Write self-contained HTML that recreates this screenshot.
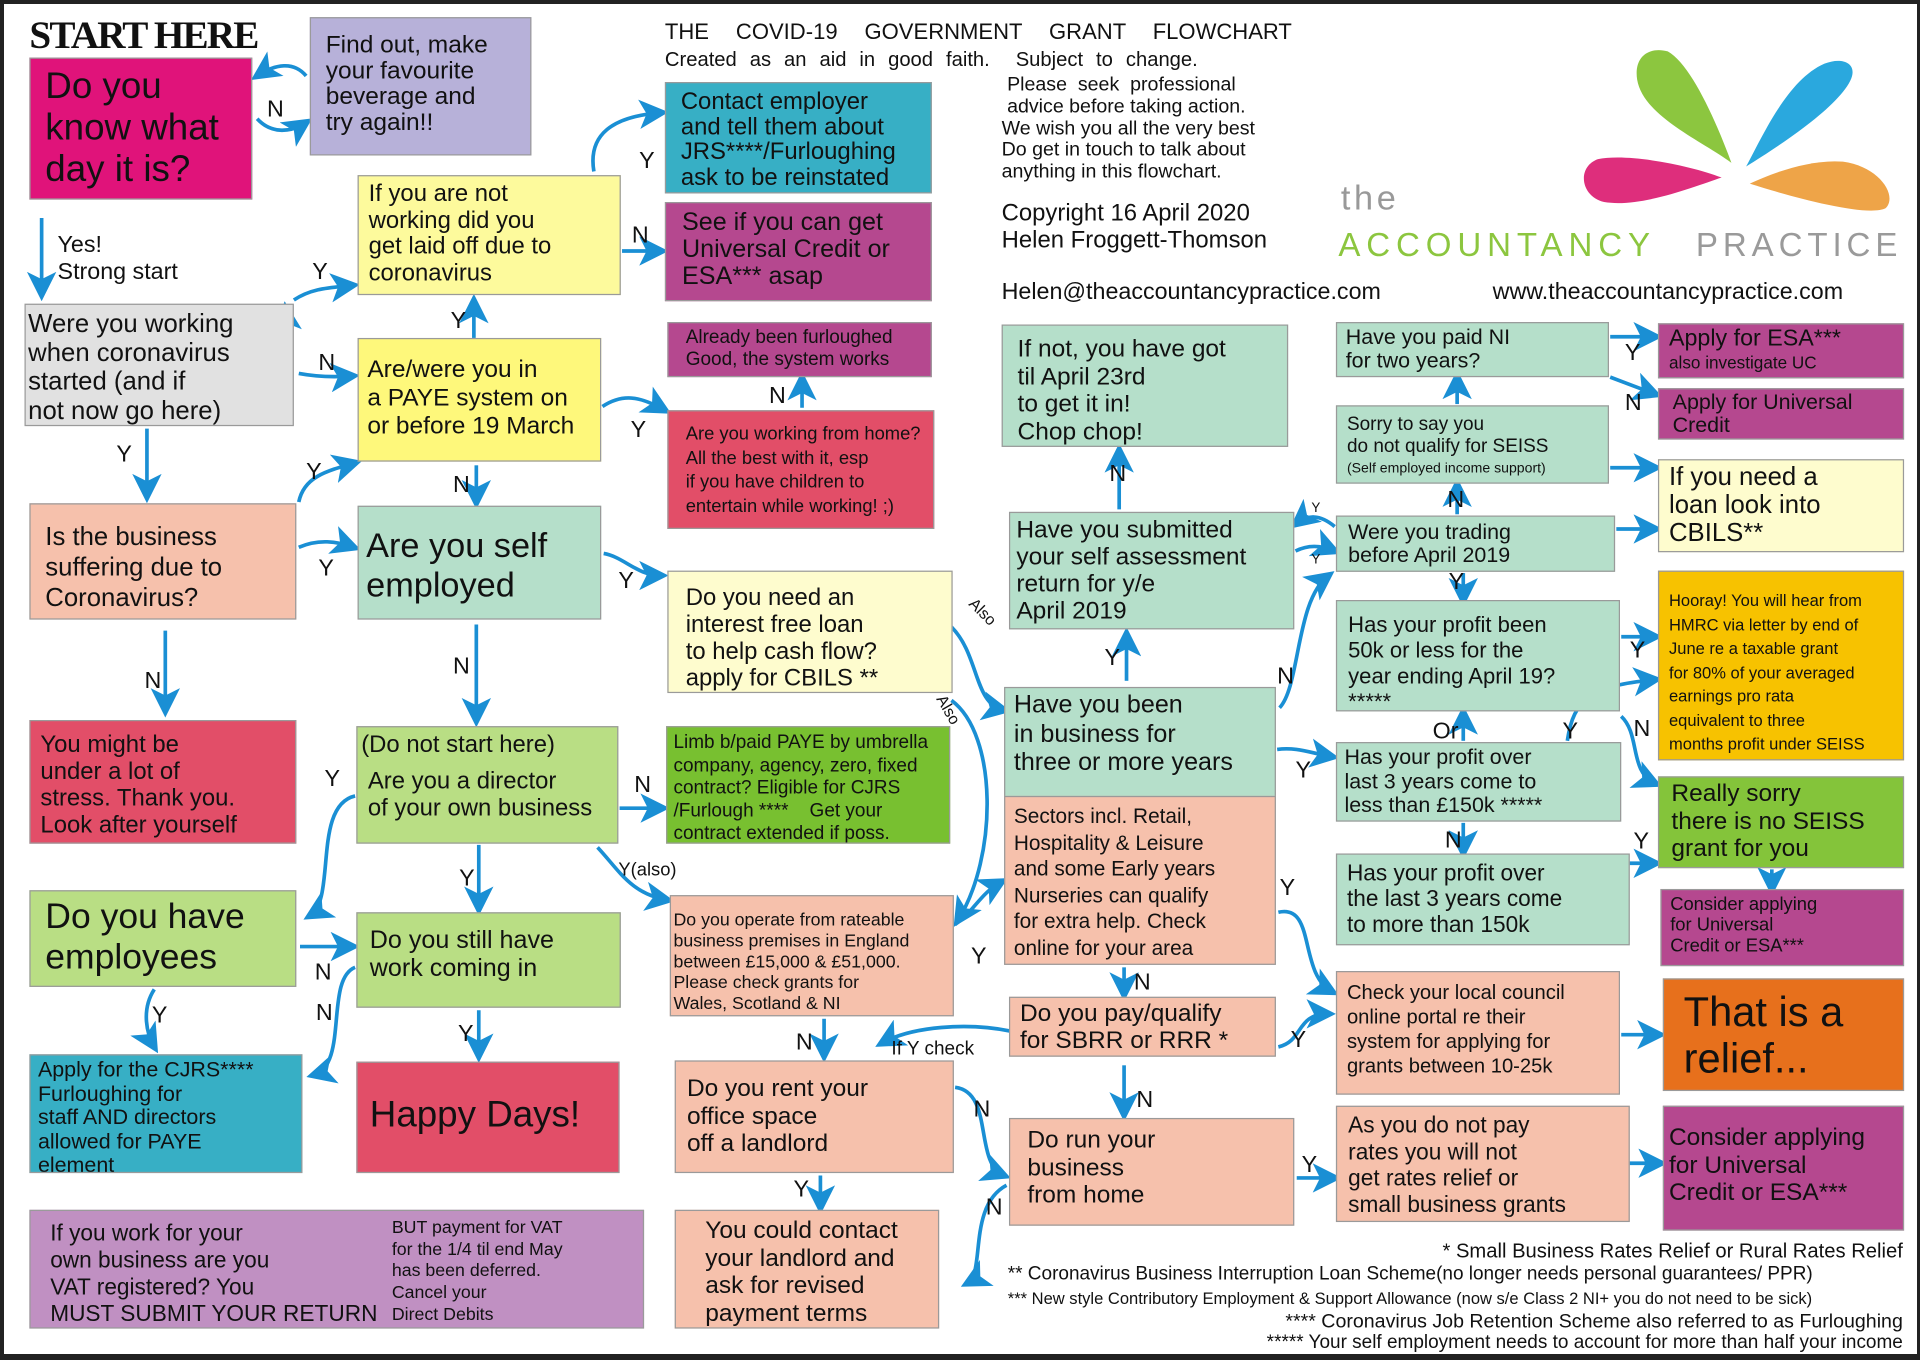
<!DOCTYPE html>
<html><head><meta charset="utf-8">
<style>
html,body{margin:0;padding:0;background:#fff;}
body{width:1920px;height:1360px;overflow:hidden;position:relative;}
#frame{position:absolute;left:0;top:0;width:1920px;height:1360px;box-sizing:border-box;border:4px solid #222;border-right-width:3px;border-bottom-width:6px;z-index:5;pointer-events:none;}
#c{position:absolute;left:0;top:0;width:1568px;height:1111px;transform:scale(1.22449);transform-origin:0 0;font-family:"Liberation Sans Narrow","Liberation Sans",sans-serif;color:#111;}
.b{position:absolute;box-sizing:border-box;border:1px solid #9a9a9a;padding:4px 10px;white-space:nowrap;overflow:hidden;}
.t{position:absolute;white-space:nowrap;}
.l{position:absolute;font-size:19px;line-height:1;}
svg{position:absolute;left:0;top:0;}
</style></head><body>
<div id="c">
<svg width="1568" height="1111" viewBox="0 0 1568 1111">
<defs><marker id="a" markerWidth="8" markerHeight="8" refX="6" refY="4" orient="auto" markerUnits="strokeWidth"><path d="M0,0 L8,4 L0,8 L2,4Z" fill="#1a8fd4"/></marker></defs>
<path d="M1414,133 C1390,115 1342,95 1337,65 C1334,45 1348,38 1362,42 C1380,52 1400,95 1414,133Z" fill="#8cc63f"/>
<path d="M1426,136 C1440,110 1460,65 1490,52 C1505,46 1518,52 1511,66 C1500,88 1455,118 1426,136Z" fill="#2aa8de"/>
<path d="M1406,145 C1380,135 1330,125 1305,130 C1288,136 1290,160 1310,165 C1340,170 1385,152 1406,145Z" fill="#de2e7c"/>
<path d="M1429,150 C1450,140 1480,130 1505,132 C1535,136 1550,160 1540,170 C1525,178 1460,160 1429,150Z" fill="#eea448"/>
<g fill="none" stroke="#1a8fd4" stroke-width="3" marker-end="url(#a)">
<path d="M250,62 C240,50 225,52 210,62"/>
<path d="M210,97 C222,110 238,108 250,100"/>
<path d="M34,178 L34,240"/>
<path d="M240,245 C255,235 270,235 288,233"/>
<path d="M244,305 C260,308 275,308 288,307"/>
<path d="M230,338 C238,310 235,275 233,252"/>
<path d="M120,350 L120,405"/>
<path d="M485,140 C480,110 500,95 540,92"/>
<path d="M508,205 L540,205"/>
<path d="M387,276 L387,246"/>
<path d="M492,332 C510,320 525,325 543,335"/>
<path d="M655,333 L655,309"/>
<path d="M389,380 L389,410"/>
<path d="M244,447 C260,440 275,442 289,447"/>
<path d="M244,410 C248,390 265,385 290,378"/>
<path d="M493,452 C510,455 520,470 540,470"/>
<path d="M389,510 L389,588"/>
<path d="M135,515 L135,580"/>
<path d="M506,660 L541,660"/>
<path d="M391,690 L391,742"/>
<path d="M488,692 C505,710 515,730 545,735"/>
<path d="M290,650 C255,658 275,735 253,748"/>
<path d="M245,773 L288,773"/>
<path d="M126,808 C115,825 120,845 126,855"/>
<path d="M290,790 C265,800 285,870 256,878"/>
<path d="M391,825 L391,862"/>
<path d="M777,512 C800,535 795,575 820,580"/>
<path d="M777,572 C815,600 815,700 782,752"/>
<path d="M780,755 C795,745 800,730 818,720"/>
<path d="M673,832 L673,862"/>
<path d="M825,842 C790,835 745,838 720,852"/>
<path d="M780,888 C812,892 795,950 820,960"/>
<path d="M670,960 L670,986"/>
<path d="M822,968 C790,985 805,1040 790,1048"/>
<path d="M918,790 L918,812"/>
<path d="M918,870 L918,910"/>
<path d="M1044,855 C1065,850 1058,828 1085,828"/>
<path d="M1044,745 C1075,738 1060,795 1088,810"/>
<path d="M1059,962 L1090,962"/>
<path d="M1324,845 L1355,845"/>
<path d="M1324,950 L1356,950"/>
<path d="M1043,612 C1060,610 1070,615 1088,618"/>
<path d="M1045,578 C1062,560 1058,490 1085,470"/>
<path d="M920,556 L920,518"/>
<path d="M914,416 L914,368"/>
<path d="M1090,430 C1078,420 1068,420 1058,428"/>
<path d="M1058,450 C1068,445 1078,445 1090,450"/>
<path d="M1320,432 L1352,432"/>
<path d="M1190,420 L1190,396"/>
<path d="M1195,468 L1195,490"/>
<path d="M1190,330 L1190,308"/>
<path d="M1315,382 L1352,382"/>
<path d="M1315,275 L1352,275"/>
<path d="M1315,308 L1352,322"/>
<path d="M1324,520 L1352,520"/>
<path d="M1324,585 C1340,600 1330,630 1352,640"/>
<path d="M1280,605 C1285,570 1300,560 1352,555"/>
<path d="M1195,605 L1195,582"/>
<path d="M1195,672 L1195,696"/>
<path d="M1330,705 L1352,705"/>
<path d="M1447,710 L1447,726"/>
</g>
</svg>

<div class="t" style="left:24px;top:10px;font-family:'Liberation Serif',serif;font-weight:bold;font-size:32px;letter-spacing:-1.5px;">START HERE</div>

<div class="b" style="left:24px;top:47px;width:182px;height:116px;background:#e0137a;font-size:30px;line-height:34px;padding:6px 12px;">Do you<br>know what<br>day it is?</div>
<div class="b" style="left:253px;top:14px;width:181px;height:113px;background:#b7b1d9;font-size:20px;line-height:21px;padding:12px 12px;">Find out, make<br>your favourite<br>beverage and<br>try again!!</div>

<div class="t" style="left:543px;top:16px;font-size:18px;word-spacing:17px;">THE COVID-19 GOVERNMENT GRANT FLOWCHART</div>
<div class="t" style="left:543px;top:40px;font-size:16.5px;word-spacing:6px;">Created as an aid in good faith.&nbsp; Subject to change.</div>
<div class="t" style="left:818px;top:61px;font-size:16px;line-height:17.8px;">&nbsp;Please &nbsp;seek &nbsp;professional<br>&nbsp;advice before taking action.<br>We wish you all the very best<br>Do get in touch to talk about<br>anything in this flowchart.</div>
<div class="t" style="left:818px;top:163px;font-size:19.5px;line-height:22px;">Copyright 16 April 2020<br>Helen Froggett-Thomson</div>
<div class="t" style="left:818px;top:228px;font-size:19px;">Helen@theaccountancypractice.com</div>
<div class="t" style="left:1219px;top:228px;font-size:19px;">www.theaccountancypractice.com</div>
<div class="t" style="left:1095px;top:146px;font-family:'Liberation Sans',sans-serif;font-size:28px;color:#999;letter-spacing:3px;">the</div>
<div class="t" style="left:1093px;top:185px;font-family:'Liberation Sans',sans-serif;font-size:27px;letter-spacing:4.8px;color:#8cc63f;">ACCOUNTANCY</div>
<div class="t" style="left:1385px;top:185px;font-family:'Liberation Sans',sans-serif;font-size:27px;letter-spacing:4px;color:#9a9a9a;">PRACTICE</div>

<div class="b" style="left:543px;top:67px;width:218px;height:91px;background:#37afc5;font-size:19.5px;line-height:20.5px;padding:5px 12px;">Contact employer<br>and tell them about<br>JRS****/Furloughing<br>ask to be reinstated</div>
<div class="b" style="left:543px;top:165px;width:218px;height:81px;background:#b5488f;font-size:20.5px;line-height:22px;padding:5px 13px;">See if you can get<br>Universal Credit or<br>ESA*** asap</div>
<div class="b" style="left:292px;top:143px;width:215px;height:98px;background:#fdfa9c;font-size:19.5px;line-height:21.5px;padding:4px 8px;">If you are not<br>working did you<br>get laid off due to<br>coronavirus</div>
<div class="b" style="left:20px;top:248px;width:220px;height:100px;background:#e1e1e1;font-size:21px;line-height:23.5px;padding:4px 2px;">Were you working<br>when coronavirus<br>started (and if<br>not now go here)</div>
<div class="t" style="left:47px;top:190px;font-size:19px;line-height:22px;">Yes!<br>Strong start</div>
<div class="b" style="left:292px;top:276px;width:199px;height:101px;background:#fef87b;font-size:20px;line-height:23px;padding:14px 7px;">Are/were you in<br>a PAYE system on<br>or before 19 March</div>
<div class="b" style="left:545px;top:263px;width:216px;height:45px;background:#b5488f;font-size:15.5px;line-height:18px;padding:3px 14px;">Already been furloughed<br>Good, the system works</div>
<div class="b" style="left:545px;top:335px;width:218px;height:97px;background:#e24e68;font-size:15px;line-height:19.5px;padding:9px 14px;">Are you working from home?<br>All the best with it, esp<br>if you have children to<br>entertain while working! ;)</div>
<div class="b" style="left:24px;top:411px;width:218px;height:95px;background:#f6c1ac;font-size:21px;line-height:25px;padding:14px 12px;">Is the business<br>suffering due to<br>Coronavirus?</div>
<div class="b" style="left:292px;top:413px;width:199px;height:93px;background:#b5dfca;font-size:28px;line-height:32px;padding:16px 6px;">Are you self<br>employed</div>
<div class="b" style="left:545px;top:466px;width:233px;height:100px;background:#fefcce;font-size:19.5px;line-height:22px;padding:10px 14px;">Do you need an<br>interest free loan<br>to help cash flow?<br>apply for CBILS **</div>
<div class="t" style="left:790px;top:492px;font-size:13px;transform:rotate(45deg);">Also</div>
<div class="t" style="left:762px;top:572px;font-size:13px;transform:rotate(60deg);">Also</div>

<div class="b" style="left:24px;top:588px;width:218px;height:101px;background:#e24e68;font-size:19.5px;line-height:22px;padding:8px 8px;">You might be<br>under a lot of<br>stress. Thank you.<br>Look after yourself</div>
<div class="b" style="left:291px;top:593px;width:214px;height:96px;background:#b9de84;font-size:19.5px;line-height:22px;padding:3px 3px;">(Do not start here)<br><div style="height:8px"></div>&nbsp;Are you a director<br>&nbsp;of your own business</div>
<div class="b" style="left:544px;top:593px;width:232px;height:96px;background:#78c030;font-size:15.5px;line-height:18.5px;padding:4px 5px;">Limb b/paid PAYE by umbrella<br>company, agency, zero, fixed<br>contract? Eligible for CJRS<br>/Furlough ****&nbsp;&nbsp;&nbsp;&nbsp;Get your<br>contract extended if poss.</div>
<div class="b" style="left:24px;top:727px;width:218px;height:79px;background:#b9de84;font-size:29px;line-height:33px;padding:5px 12px;">Do you have<br>employees</div>
<div class="b" style="left:291px;top:745px;width:216px;height:78px;background:#b9de84;font-size:20.5px;line-height:23px;padding:10px 10px;">Do you still have<br>work coming in</div>
<div class="b" style="left:24px;top:861px;width:223px;height:97px;background:#37afc5;font-size:17.5px;line-height:19.5px;padding:2px 6px;">Apply for the CJRS****<br>Furloughing for<br>staff AND directors<br>allowed for PAYE<br>element</div>
<div class="b" style="left:291px;top:867px;width:215px;height:91px;background:#e24e68;font-size:30px;line-height:34px;padding:26px 10px;">Happy Days!</div>
<div class="b" style="left:24px;top:988px;width:502px;height:97px;background:#c090c2;padding:0;">
<div class="t" style="left:16px;top:7px;font-size:18.5px;line-height:22px;">If you work for your<br>own business are you<br>VAT registered? You<br>MUST SUBMIT YOUR RETURN</div>
<div class="t" style="left:295px;top:6px;font-size:14.5px;line-height:17.7px;">BUT payment for VAT<br>for the 1/4 til end May<br>has been deferred.<br>Cancel your<br>Direct Debits</div></div>

<div class="b" style="left:547px;top:731px;width:232px;height:99px;background:#f6c1ac;font-size:14.5px;line-height:17px;padding:12px 2px;">Do you operate from rateable<br>business premises in England<br>between £15,000 &amp; £51,000.<br>Please check grants for<br>Wales, Scotland &amp; NI</div>
<div class="b" style="left:551px;top:866px;width:228px;height:92px;background:#f6c1ac;font-size:20px;line-height:22.5px;padding:11px 9px;">Do you rent your<br>office space<br>off a landlord</div>
<div class="b" style="left:551px;top:988px;width:216px;height:97px;background:#f6c1ac;font-size:20px;line-height:22.5px;padding:5px 24px;">You could contact<br>your landlord and<br>ask for revised<br>payment terms</div>

<div class="b" style="left:818px;top:265px;width:234px;height:100px;background:#b5dfca;font-size:20px;line-height:22.5px;padding:8px 12px;">If not, you have got<br>til April 23rd<br>to get it in!<br>Chop chop!</div>
<div class="b" style="left:824px;top:418px;width:233px;height:96px;background:#b5dfca;font-size:20px;line-height:22px;padding:3px 5px;">Have you submitted<br>your self assessment<br>return for y/e<br>April 2019</div>
<div class="b" style="left:820px;top:561px;width:222px;height:90px;background:#b5dfca;font-size:20.5px;line-height:23.5px;padding:2px 7px;">Have you been<br>in business for<br>three or more years</div>
<div class="b" style="left:820px;top:650px;width:222px;height:138px;background:#f6c1ac;font-size:17px;line-height:21.5px;padding:5px 7px;">Sectors incl. Retail,<br>Hospitality &amp; Leisure<br>and some Early years<br>Nurseries can qualify<br>for extra help. Check<br>online for your area</div>
<div class="b" style="left:824px;top:814px;width:218px;height:49px;background:#f6c1ac;font-size:20px;line-height:22px;padding:2px 8px;">Do you pay/qualify<br>for SBRR or RRR *</div>
<div class="t" style="left:728px;top:848px;font-size:15.5px;">If Y check</div>
<div class="b" style="left:824px;top:913px;width:233px;height:88px;background:#f6c1ac;font-size:20px;line-height:22.5px;padding:6px 14px;">Do run your<br>business<br>from home</div>

<div class="b" style="left:1091px;top:263px;width:223px;height:45px;background:#b5dfca;font-size:17.5px;line-height:19px;padding:2px 7px;">Have you paid NI<br>for two years?</div>
<div class="b" style="left:1091px;top:331px;width:223px;height:64px;background:#b5dfca;font-size:15.5px;line-height:17.5px;padding:6px 8px;">Sorry to say you<br>do not qualify for SEISS<br><span style="font-size:11.5px">(Self employed income support)</span></div>
<div class="b" style="left:1091px;top:421px;width:228px;height:46px;background:#b5dfca;font-size:17.5px;line-height:19px;padding:3px 9px;">Were you trading<br>before April 2019</div>
<div class="b" style="left:1091px;top:490px;width:232px;height:91px;background:#b5dfca;font-size:18px;line-height:21px;padding:9px 9px;">Has your profit been<br>50k or less for the<br>year ending April 19?<br>*****</div>
<div class="b" style="left:1091px;top:606px;width:233px;height:65px;background:#b5dfca;font-size:17.5px;line-height:19.5px;padding:2px 6px;">Has your profit over<br>last 3 years come to<br>less than £150k *****</div>
<div class="b" style="left:1091px;top:697px;width:240px;height:75px;background:#b5dfca;font-size:18.5px;line-height:21px;padding:4px 8px;">Has your profit over<br>the last 3 years come<br>to more than 150k</div>
<div class="b" style="left:1091px;top:793px;width:232px;height:101px;background:#f6c1ac;font-size:16.5px;line-height:20px;padding:7px 8px;">Check your local council<br>online portal re their<br>system for applying for<br>grants between 10-25k</div>
<div class="b" style="left:1091px;top:903px;width:240px;height:95px;background:#f6c1ac;font-size:18.5px;line-height:21.5px;padding:4px 9px;">As you do not pay<br>rates you will not<br>get rates relief or<br>small business grants</div>

<div class="b" style="left:1354px;top:264px;width:201px;height:45px;background:#b5488f;font-size:19px;line-height:19px;padding:2px 8px;">Apply for ESA***<br><span style="font-size:14px;line-height:16px">also investigate UC</span></div>
<div class="b" style="left:1354px;top:317px;width:201px;height:42px;background:#b5488f;font-size:17.5px;line-height:19px;padding:1px 11px;">Apply for Universal<br>Credit</div>
<div class="b" style="left:1354px;top:375px;width:201px;height:76px;background:#fefcce;font-size:21px;line-height:23px;padding:2px 8px;">If you need a<br>loan look into<br>CBILS**</div>
<div class="b" style="left:1354px;top:466px;width:201px;height:155px;background:#f7c200;font-size:13.5px;line-height:19.5px;padding:14px 8px;">Hooray! You will hear from<br>HMRC via letter by end of<br>June re a taxable grant<br>for 80% of your averaged<br>earnings pro rata<br>equivalent to three<br>months profit under SEISS</div>
<div class="b" style="left:1354px;top:634px;width:201px;height:75px;background:#84c43a;font-size:20px;line-height:22.5px;padding:2px 10px;">Really sorry<br>there is no SEISS<br>grant for you</div>
<div class="b" style="left:1356px;top:726px;width:199px;height:63px;background:#b5488f;font-size:15px;line-height:17px;padding:3px 7px;">Consider applying<br>for Universal<br>Credit or ESA***</div>
<div class="b" style="left:1358px;top:799px;width:197px;height:92px;background:#e7701c;font-size:34px;line-height:38px;padding:8px 16px;">That is a<br>relief...</div>
<div class="b" style="left:1358px;top:903px;width:197px;height:102px;background:#b5488f;font-size:20px;line-height:22.5px;padding:14px 4px;">Consider applying<br>for Universal<br>Credit or ESA***</div>

<div class="t" style="right:14px;top:1013px;font-size:16.5px;text-align:right;">* Small Business Rates Relief or Rural Rates Relief</div>
<div class="t" style="left:823px;top:1032px;font-size:15.5px;">** Coronavirus Business Interruption Loan Scheme(no longer needs personal guarantees/ PPR)</div>
<div class="t" style="left:823px;top:1053px;font-size:13.5px;">*** New style Contributory Employment &amp; Support Allowance (now s/e Class 2 NI+ you do not need to be sick)</div>
<div class="t" style="right:14px;top:1071px;font-size:16px;text-align:right;">**** Coronavirus Job Retention Scheme also referred to as Furloughing</div>
<div class="t" style="right:14px;top:1088px;font-size:15.5px;text-align:right;">***** Your self employment needs to account for more than half your income</div>

<div class="l" style="left:218px;top:80px;">N</div>
<div class="l" style="left:255px;top:213px;">Y</div>
<div class="l" style="left:260px;top:287px;">N</div>
<div class="l" style="left:95px;top:362px;">Y</div>
<div class="l" style="left:522px;top:122px;">Y</div>
<div class="l" style="left:516px;top:183px;">N</div>
<div class="l" style="left:368px;top:253px;">Y</div>
<div class="l" style="left:515px;top:342px;">Y</div>
<div class="l" style="left:628px;top:314px;">N</div>
<div class="l" style="left:370px;top:387px;">N</div>
<div class="l" style="left:250px;top:376px;">Y</div>
<div class="l" style="left:260px;top:455px;">Y</div>
<div class="l" style="left:505px;top:465px;">Y</div>
<div class="l" style="left:370px;top:535px;">N</div>
<div class="l" style="left:118px;top:547px;">N</div>
<div class="l" style="left:518px;top:632px;">N</div>
<div class="l" style="left:265px;top:627px;">Y</div>
<div class="l" style="left:375px;top:708px;">Y</div>
<div class="t" style="left:505px;top:702px;font-size:15px;">Y(also)</div>
<div class="l" style="left:257px;top:785px;">N</div>
<div class="l" style="left:124px;top:820px;">Y</div>
<div class="l" style="left:258px;top:818px;">N</div>
<div class="l" style="left:374px;top:835px;">Y</div>
<div class="l" style="left:793px;top:772px;">Y</div>
<div class="l" style="left:650px;top:842px;">N</div>
<div class="l" style="left:795px;top:897px;">N</div>
<div class="l" style="left:648px;top:962px;">Y</div>
<div class="l" style="left:805px;top:977px;">N</div>
<div class="l" style="left:926px;top:793px;">N</div>
<div class="l" style="left:928px;top:889px;">N</div>
<div class="l" style="left:1054px;top:840px;">Y</div>
<div class="l" style="left:1045px;top:716px;">Y</div>
<div class="l" style="left:1063px;top:942px;">Y</div>
<div class="l" style="left:1058px;top:620px;">Y</div>
<div class="l" style="left:1043px;top:543px;">N</div>
<div class="l" style="left:902px;top:528px;">Y</div>
<div class="l" style="left:906px;top:378px;">N</div>
<div class="t" style="left:1071px;top:409px;font-size:11px;">Y</div>
<div class="t" style="left:1071px;top:451px;font-size:11px;">Y</div>
<div class="l" style="left:1182px;top:399px;">N</div>
<div class="l" style="left:1183px;top:466px;">Y</div>
<div class="l" style="left:1327px;top:279px;">Y</div>
<div class="l" style="left:1327px;top:320px;">N</div>
<div class="l" style="left:1331px;top:522px;">Y</div>
<div class="l" style="left:1334px;top:586px;">N</div>
<div class="l" style="left:1276px;top:588px;">Y</div>
<div class="l" style="left:1170px;top:588px;">Or</div>
<div class="l" style="left:1180px;top:677px;">N</div>
<div class="l" style="left:1334px;top:678px;">Y</div>
</div>
<div id="frame"></div>
</body></html>
